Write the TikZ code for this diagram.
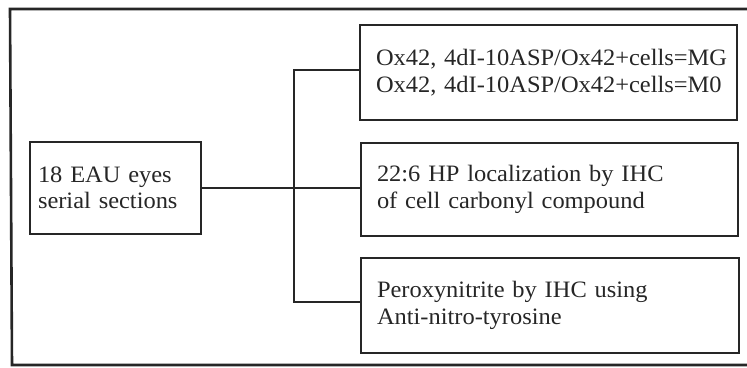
\documentclass[tikz,border=0pt]{standalone}
\usepackage{fontspec}
\setmainfont[FakeStretch=1.04]{Liberation Serif}
\begin{document}
\begin{tikzpicture}[x=1pt,y=-1pt,
  box/.style={draw=black!85,line width=1.8pt,inner sep=0pt,inner xsep=16pt,align=left,
    font=\fontsize{23.5}{26.5}\selectfont,text=black!85},
  link/.style={draw=black!85,line width=1.6pt}]
\useasboundingbox (0,0) rectangle (747,367);
\fill[white] (0,0) rectangle (747,367);
\draw[black!85,line width=2.6pt] (747,9) -- (10,9) -- (12,365) -- (747,365);
\node[box,minimum width=171pt,minimum height=92pt,inner xsep=8pt,text width=155pt] (src) at (115.5,188)
  {18 EAU eyes\\serial sections};
\node[box,minimum width=377pt,minimum height=95pt,text width=345pt] (top) at (548.5,72.5)
  {\mbox{Ox42, 4dI-10ASP/Ox42+cells=MG}\\\mbox{Ox42, 4dI-10ASP/Ox42+cells=M0}};
\node[box,minimum width=377pt,minimum height=93pt,text width=345pt] (mid) at (549.5,189.5)
  {22:6 HP localization by IHC\\of cell carbonyl compound};
\node[box,minimum width=378pt,minimum height=95pt,text width=346pt] (bot) at (550,305.5)
  {Peroxynitrite by IHC using\\Anti-nitro-tyrosine};
\coordinate (j1) at (294,70);
\coordinate (j3) at (294,302);
\draw[link] (src.east) -- (src.east -| mid.west);
\draw[link] (top.west |- j1) -- (j1) -- (j3) -- (bot.west |- j3);
\end{tikzpicture}
\end{document}
